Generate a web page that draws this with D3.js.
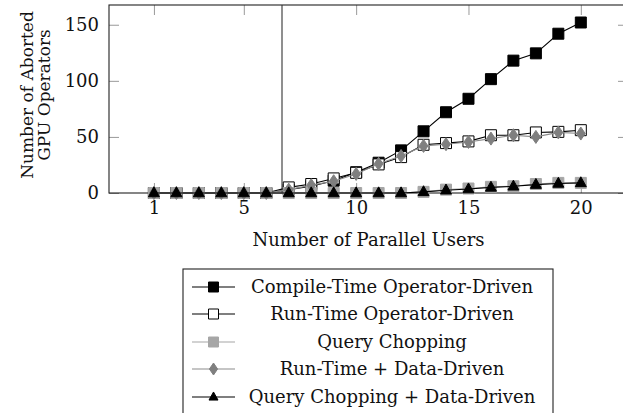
<!DOCTYPE html>
<html>
<head>
<meta charset="utf-8">
<script src="https://cdn.jsdelivr.net/npm/d3@7"></script>
<style>
  html, body { margin: 0; padding: 0; background: #fff; }
  svg { display: block; }
  text { font-family: "DejaVu Serif", serif; fill: #111; }
</style>
</head>
<body>
<svg id="chart" width="623" height="413"></svg>
<script>
// ---- data ----
const users = [1,2,3,4,5,6,7,8,9,10,11,12,13,14,15,16,17,18,19,20];
const compileTimeOp = [0,0,0,0,0,0,3,6,11,18.5,27,38,55,72,84,101.5,118,124.5,142,152];
const runTimeOp     = [0,0,0,0,0,0,5,8,13,18,25.5,32,43,44.5,46,51.5,51.5,54,54.5,56];
const queryChop     = [0,0,0,0,0,0,0,0,0,0,0,0,1,3,4,5.5,6,8,9,9];
const runTimeData   = [0,0,0,0,0,0,3,7,10.5,17,26,33,42,43.5,45.5,48.5,51.5,50,54,53];
const queryChopData = [0,0,0,0,0,0,0,0,0,0,0,0,1,2.5,3.5,5,6,7.5,8.5,9];
const seriesNames = ["Compile-Time Operator-Driven","Run-Time Operator-Driven","Query Chopping","Run-Time + Data-Driven","Query Chopping + Data-Driven"];
const xTicks = [1,5,10,15,20];
const yTicks = [0,50,100,150];
const xDomain = [-1, 22.1];
const yDomain = [0, 167.6];
const vLineX = 6.7;
const xLabel = "Number of Parallel Users";
const yLabel = ["Number of Aborted", "GPU Operators"];

const styles = [
  {shape:"square",  fill:"#000",    stroke:"#000",    line:"#000"},
  {shape:"square",  fill:"#fff",    stroke:"#000",    line:"#000"},
  {shape:"square",  fill:"#a6a6a6", stroke:"#a6a6a6", line:"#a6a6a6"},
  {shape:"diamond", fill:"#7f7f7f", stroke:"#7f7f7f", line:"#8c8c8c"},
  {shape:"triangle",fill:"#000",    stroke:"#000",    line:"#000"}
];
const allSeries = [compileTimeOp, runTimeOp, queryChop, runTimeData, queryChopData];

const svg = d3.select("#chart");
const L = 109, R = 628, T = 5, B = 193;
const x = d3.scaleLinear().domain(xDomain).range([L, R]);
const y = d3.scaleLinear().domain(yDomain).range([B, T]);
const FS = 18;

function markerPath(shape, s) {
  if (shape === "square") { const h = s/2; return `M${-h},${-h}H${h}V${h}H${-h}Z`; }
  if (shape === "diamond") { const w = s*0.34, h = s*0.5; return `M0,${-h}L${w},0L0,${h}L${-w},0Z`; }
  if (shape === "triangle") { const w = s/2, h = s*0.9; return `M0,${-h*0.62}L${w},${h*0.38}L${-w},${h*0.38}Z`; }
}

// ticks (inner, grey)
const tickLen = 10;
const axisG = svg.append("g");
const xTop = d3.axisTop(x).tickValues(xTicks).tickSize(-tickLen).tickFormat("");
const xBot = d3.axisBottom(x).tickValues(xTicks).tickSize(-tickLen).tickPadding(8);
const yLeft = d3.axisLeft(y).tickValues(yTicks).tickSize(-tickLen).tickPadding(10);
const yRight = d3.axisRight(y).tickValues(yTicks).tickSize(-tickLen).tickFormat("");

function styleAxis(g) {
  g.select(".domain").remove();
  g.selectAll(".tick line").attr("stroke", "#999").attr("stroke-width", 1);
  g.selectAll(".tick text").attr("font-family", "DejaVu Serif").attr("font-size", FS).attr("fill", "#111");
}
axisG.append("g").attr("transform", `translate(0,${T})`).call(xTop).call(styleAxis);
axisG.append("g").attr("transform", `translate(0,${B})`).call(xBot).call(styleAxis);
axisG.append("g").attr("transform", `translate(${L},0)`).call(yLeft).call(styleAxis);
axisG.append("g").attr("transform", `translate(${R},0)`).call(yRight).call(styleAxis);

// frame
svg.append("rect").attr("x", L).attr("y", T).attr("width", R - L).attr("height", B - T)
  .attr("fill", "none").attr("stroke", "#222").attr("stroke-width", 1.1);

// vertical line
svg.append("line").attr("x1", x(vLineX)).attr("x2", x(vLineX)).attr("y1", T).attr("y2", B)
  .attr("stroke", "#333").attr("stroke-width", 1.1);

// series
const line = d3.line().x((d, i) => x(users[i])).y(d => y(d));
allSeries.forEach((vals, si) => {
  const st = styles[si];
  const g = svg.append("g");
  g.append("path").attr("d", line(vals)).attr("fill", "none").attr("stroke", st.line).attr("stroke-width", 1.1);
  g.selectAll("path.m").data(vals).enter().append("path").attr("class", "m")
    .attr("transform", (d, i) => `translate(${x(users[i])},${y(d)})`)
    .attr("d", markerPath(st.shape, st.shape === "square" ? 11 : st.shape === "diamond" ? 13 : 11))
    .attr("fill", st.fill).attr("stroke", st.stroke).attr("stroke-width", 1);
});

// axis labels
svg.append("text").attr("x", (L + R) / 2).attr("y", 246).attr("text-anchor", "middle")
  .attr("font-size", FS).text(xLabel);
const yl = svg.append("text").attr("transform", `translate(33,95) rotate(-90)`)
  .attr("text-anchor", "middle").attr("font-size", 17);
yl.append("tspan").attr("x", 0).attr("dy", 0).text(yLabel[0]);
yl.append("tspan").attr("x", 0).attr("dy", 17).text(yLabel[1]);

// legend
const legX = 183, legY = 269, legW = 370;
svg.append("rect").attr("x", legX).attr("y", legY).attr("width", legW).attr("height", 160)
  .attr("fill", "#fff").attr("stroke", "#222").attr("stroke-width", 1.1);
const rowY = [287, 314, 342, 369, 397];
seriesNames.forEach((name, i) => {
  const st = styles[i];
  const g = svg.append("g").attr("transform", `translate(0,${rowY[i]})`);
  g.append("line").attr("x1", 192).attr("x2", 235).attr("y1", 0).attr("y2", 0)
    .attr("stroke", st.line).attr("stroke-width", 1.1);
  g.append("path").attr("transform", "translate(213.5,0)")
    .attr("d", markerPath(st.shape, st.shape === "square" ? 10 : st.shape === "diamond" ? 12 : 9))
    .attr("fill", st.fill).attr("stroke", st.stroke).attr("stroke-width", 1);
  g.append("text").attr("x", 392).attr("y", 6).attr("text-anchor", "middle")
    .attr("font-size", FS).text(name);
});
</script>
</body>
</html>
